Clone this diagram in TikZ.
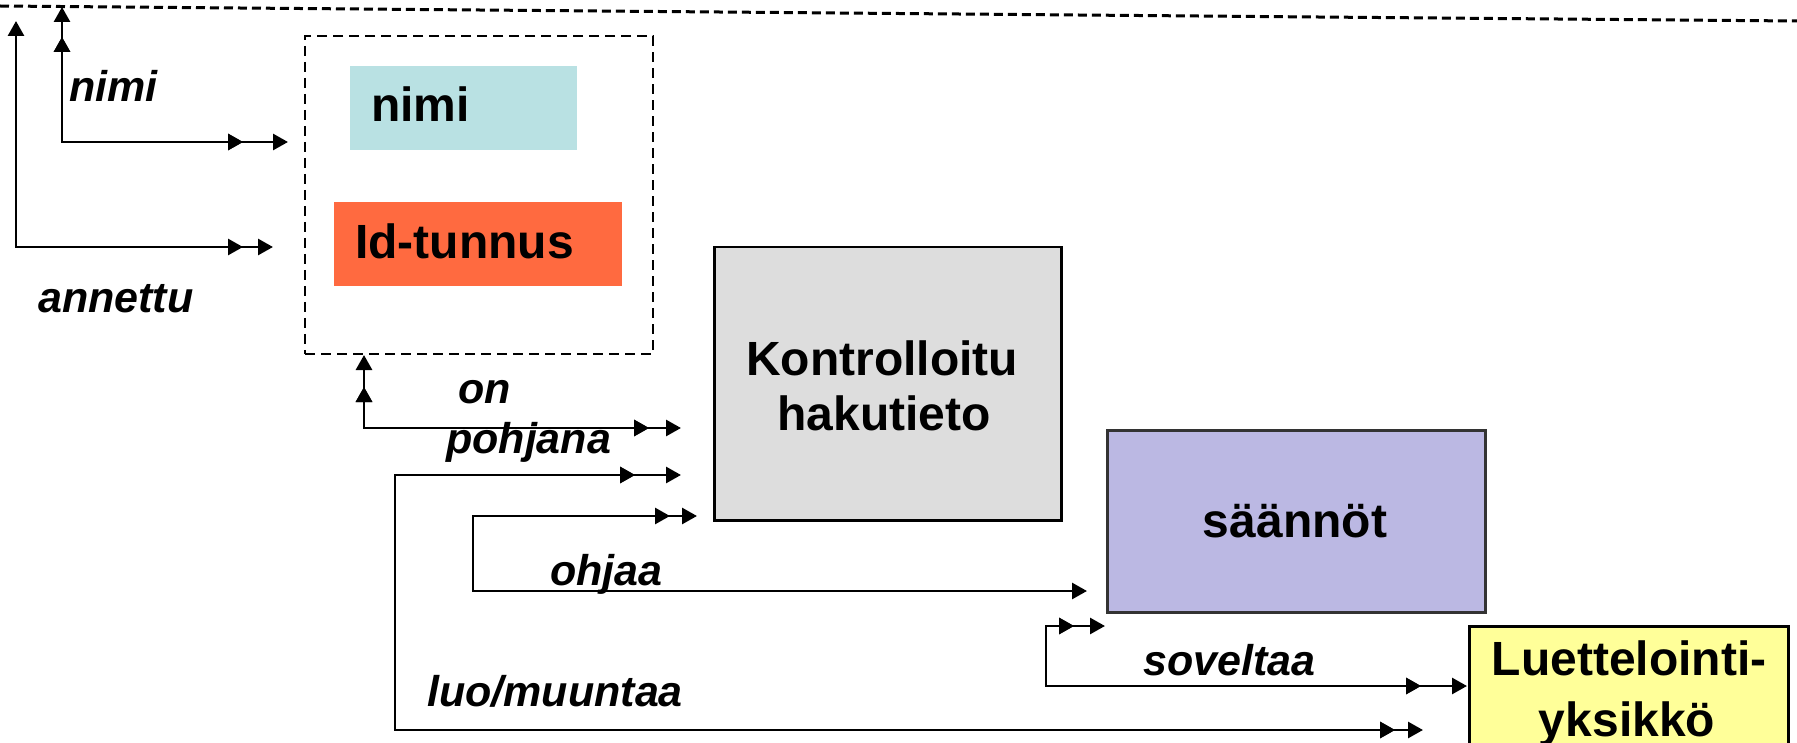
\documentclass[tikz,border=0pt]{standalone}
\usepackage{fontspec}
\setmainfont{Liberation Sans}
\usetikzlibrary{arrows.meta,decorations.markings}
\definecolor{cyanbox}{HTML}{B9E1E3}
\definecolor{redbox}{HTML}{FF6A40}
\definecolor{graybox}{HTML}{DDDDDD}
\definecolor{lilacbox}{HTML}{BBB8E3}
\definecolor{yellowbox}{HTML}{FFFF99}
\tikzset{
  tipA/.tip={Triangle[length=15pt,width=16pt]},
  conn/.style={line width=2.8pt, black},
  dstart/.style={postaction={decorate}, decoration={markings, mark=at position #1 with {\arrowreversed{tipA}}}},
  dend/.style={postaction={decorate}, decoration={markings, mark=at position #1 with {\arrow{tipA}}}},
  filledbox/.style={draw, line width=2.5pt, anchor=north west, inner sep=0pt},
  plainbox/.style={anchor=north west, inner sep=0pt, draw=none},
  boxtext/.style={font=\fontsize{48}{55}\selectfont\bfseries, inner sep=0pt, anchor=base},
  boxtextw/.style={font=\fontsize{48}{55}\selectfont\bfseries, inner sep=0pt, anchor=base west},
  lbl/.style={font=\fontsize{43}{50}\selectfont\bfseries\itshape, inner sep=0pt, anchor=base west},
}
\begin{document}
\begin{tikzpicture}[x=1pt,y=-1pt]
\useasboundingbox (0,0) rectangle (1797,743);
\clip (0,0) rectangle (1797,743);
% top dashed line
\coordinate (topL) at (0,6);
\coordinate (topR) at (1797,21);
\draw[line width=3pt, dash pattern=on 9pt off 5pt] (topL) -- (topR);
% dashed group box
\node[plainbox, draw, dash pattern=on 10pt off 6pt, line width=2pt, minimum width=348pt, minimum height=318pt] (grp) at (304,35) {};
\node[plainbox, fill=cyanbox, minimum width=227pt, minimum height=84pt] (nimibox) at (350,66) {};
\node[plainbox, fill=redbox, minimum width=288pt, minimum height=84pt] (idbox) at (334,202) {};
\node[boxtextw] (nimit) at (371,122) {nimi};
\node[boxtextw] (idt) at (355,259) {Id-tunnus};
% main boxes
\node[filledbox, fill=graybox, minimum width=347pt, minimum height=273pt] (kh) at (713,246) {};
\node[boxtext] (kht1) at (882,375) {Kontrolloitu};
\node[boxtext] (kht2) at (884,430) {hakutieto};
\node[filledbox, draw=black!80, fill=lilacbox, minimum width=378pt, minimum height=182pt] (sa) at (1106,429) {};
\node[boxtext] (sat) at (1295,537) {säännöt};
\node[filledbox, fill=yellowbox, minimum width=319pt, minimum height=170pt] (lu) at (1468,625) {};
\node[boxtext] (lut1) at (1629,675) {Luettelointi-};
\node[boxtext] (lut2) at (1627,736) {yksikkö};
% connector end coordinates
\coordinate (anT) at (16,21);
\coordinate (anE) at (273,247);
\coordinate (niT) at (62,7);
\coordinate (niE) at (288,142);
\coordinate (onS) at (grp.south -| 364,0);
\coordinate (onE) at (681,428);
\coordinate (lmA) at (681,475);
\coordinate (lmB) at (1423,730);
\coordinate (ohA) at (697,516);
\coordinate (ohB) at (1087,591);
\coordinate (soA) at (1105,626);
\coordinate (soB) at (1467,686);
% connectors
\draw[conn, {tipA}-{tipA}, dend=-30pt] (anT) |- (anE);
\draw[conn, {tipA}-{tipA}, dstart=30pt, dend=-45pt] (niT) |- (niE);
\draw[conn, {tipA}-{tipA}, dstart=32pt, dend=-32pt] (onS) |- (onE);
\draw[conn, {tipA}-{tipA}, dstart=46pt, dend=-28pt] (lmA) -- (395,475) -- (395,730) -- (lmB);
\draw[conn, {tipA}-{tipA}, dstart=27pt] (ohA) -- (473,516) -- (473,591) -- (ohB);
\draw[conn, {tipA}-{tipA}, dstart=31pt, dend=-46pt] (soA) -- (1046,626) -- (1046,686) -- (soB);
% labels
\node[lbl] (l1) at (69,102) {nimi};
\node[lbl] (l2) at (38,313) {annettu};
\node[lbl] (l3) at (458,403) {on};
\node[lbl] (l4) at (446,453) {pohjana};
\node[lbl] (l5) at (550,585) {ohjaa};
\node[lbl] (l6) at (427,706) {luo/muuntaa};
\node[lbl] (l7) at (1143,675) {soveltaa};
\end{tikzpicture}
\end{document}
